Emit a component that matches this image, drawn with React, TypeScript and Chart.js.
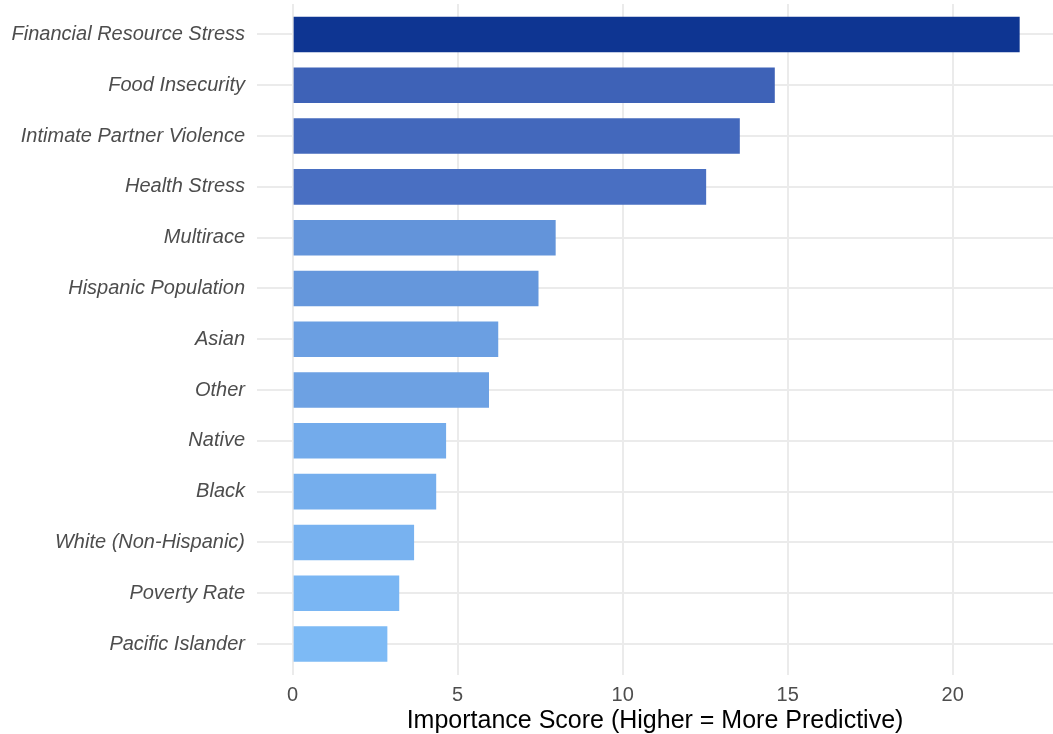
import React, { useEffect, useRef } from "react";
import { Chart, registerables } from "chart.js";

Chart.register(...registerables);

const categories = [
  "Financial Resource Stress",
  "Food Insecurity",
  "Intimate Partner Violence",
  "Health Stress",
  "Multirace",
  "Hispanic Population",
  "Asian",
  "Other",
  "Native",
  "Black",
  "White (Non-Hispanic)",
  "Poverty Rate",
  "Pacific Islander",
];

const importance = [22.03, 14.61, 13.55, 12.53, 7.97, 7.45, 6.23, 5.95, 4.65, 4.35, 3.68, 3.23, 2.87];

const barColors = [
  "#0E3592",
  "#3E62B7",
  "#4368BC",
  "#496FC2",
  "#6394DA",
  "#6597DC",
  "#6B9FE2",
  "#6DA1E3",
  "#73ABEB",
  "#75AEED",
  "#78B2F0",
  "#7AB6F3",
  "#7DBAF5",
];

const xTicks = [0, 5, 10, 15, 20];
const xTitle = "Importance Score (Higher = More Predictive)";

export default function App() {
  const ref = useRef<HTMLCanvasElement | null>(null);

  useEffect(() => {
    if (!ref.current) return;
    const chart = new Chart(ref.current, {
      type: "bar",
      data: {
        datasets: [
          {
            data: importance.map((v, i) => ({ x: v, y: i })),
            backgroundColor: barColors,
            borderWidth: 0,
            categoryPercentage: 1,
            barPercentage: 0.7,
          },
        ],
      },
      options: {
        indexAxis: "y",
        animation: false,
        responsive: true,
        maintainAspectRatio: false,
        layout: { padding: { top: 4, left: 0, right: 0, bottom: 0 } },
        plugins: { legend: { display: false }, tooltip: { enabled: false } },
        scales: {
          x: {
            type: "linear",
            position: "bottom",
            offset: false,
            min: -1.08,
            max: 23.04,
            afterBuildTicks: (scale: any) => {
              scale.ticks = xTicks.map((v) => ({ value: v }));
            },
            afterFit: (scale: any) => {
              scale.height = 59.5;
              scale.paddingTop = 0;
              scale.paddingBottom = 0;
              scale.paddingLeft = 0;
              scale.paddingRight = 0;
            },
            grid: { color: "#EBEBEB", lineWidth: 2, drawTicks: false, offset: false },
            border: { display: false },
            ticks: {
              padding: 9,
              color: "#4D4D4D",
              font: { family: "Liberation Sans", size: 20 },
            },
            title: {
              display: true,
              text: xTitle,
              color: "#000000",
              padding: { top: 0, bottom: 0 },
              font: { family: "Liberation Sans", size: 25, lineHeight: 1.05 },
            },
          },
          y: {
            type: "linear",
            reverse: true,
            offset: false,
            min: -0.6,
            max: categories.length - 0.4,
            afterBuildTicks: (scale: any) => {
              scale.ticks = categories.map((_, i) => ({ value: i }));
            },
            afterFit: (scale: any) => {
              scale.width = 257;
              scale.paddingTop = 0;
              scale.paddingBottom = 0;
              scale.paddingLeft = 0;
              scale.paddingRight = 0;
            },
            grid: { color: "#EBEBEB", lineWidth: 2, drawTicks: false, offset: false },
            border: { display: false },
            ticks: {
              padding: 12,
              color: "#4D4D4D",
              font: { family: "Liberation Sans", size: 20, style: "italic" },
              callback: (v: any) => categories[Number(v)] ?? "",
            },
          },
        },
      },
    });
    return () => chart.destroy();
  }, []);

  return (
    <div style={{ position: "fixed", left: 0, top: 0, width: 1053, height: 734, background: "#ffffff" }}>
      <canvas ref={ref} />
    </div>
  );
}
